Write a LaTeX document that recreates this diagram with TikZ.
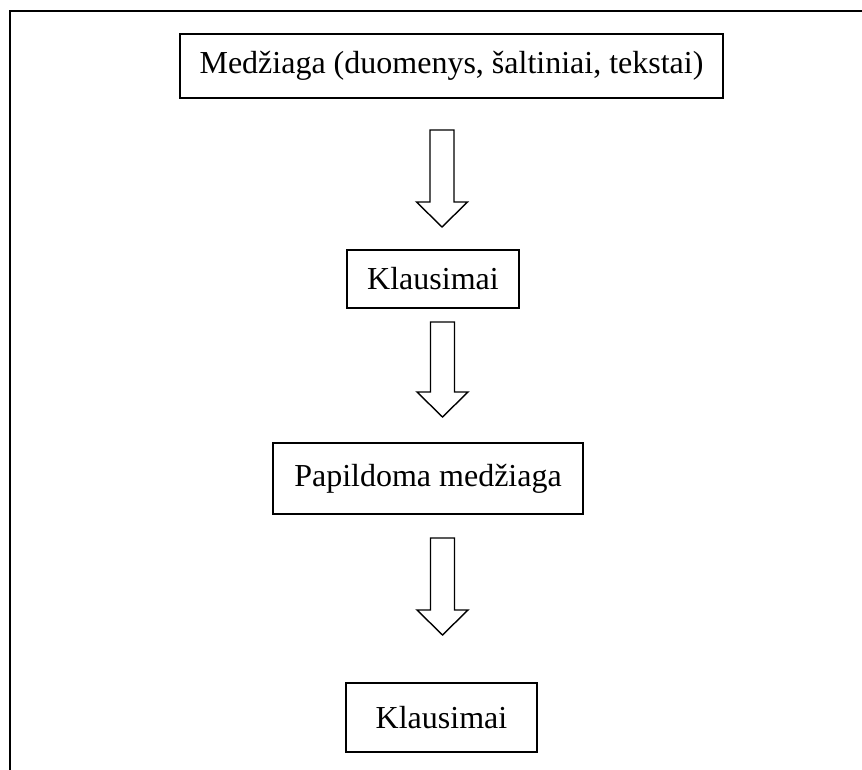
\documentclass[tikz,border=0pt]{standalone}
\usepackage{fontspec}
\setmainfont{Liberation Serif}
\begin{document}
\begin{tikzpicture}[x=1pt,y=-1pt,
  box/.style={draw,line width=1.6pt,inner sep=0pt,font=\fontsize{32}{36}\selectfont,align=center},
  blockarrow/.style={draw,line width=1.4pt,line join=miter,fill=white}]
\useasboundingbox (0,0) rectangle (862,770);
% outer frame (top and left only)
\coordinate (tr) at (862,11);
\coordinate (tl) at (10,11);
\coordinate (bl) at (10,770);
\draw[line width=1.6pt] (tr) -- (tl) -- (bl);
% boxes
\node[box,minimum width=543,minimum height=64] (m1) at (451.5,66) {Medžiaga (duomenys, šaltiniai, tekstai)};
\node[box,minimum width=172,minimum height=58] (k1) at (433,279) {Klausimai};
\node[box,minimum width=310,minimum height=71] (pm) at (428,478.5) {Papildoma medžiaga};
\node[box,minimum width=191,minimum height=69] (k2) at (441.5,717.5) {Klausimai};
% block arrows
\newcommand{\myblockarrow}[3]{% x, top, headstart
  \draw[blockarrow] (#1-12,#2) -- (#1+12,#2) -- (#1+12,#3) -- (#1+25.5,#3) -- (#1,#3+25) -- (#1-25.5,#3) -- (#1-12,#3) -- cycle;}
\myblockarrow{442}{130}{202}
\myblockarrow{442.5}{322}{392}
\myblockarrow{442.5}{538}{610}
\end{tikzpicture}
\end{document}
